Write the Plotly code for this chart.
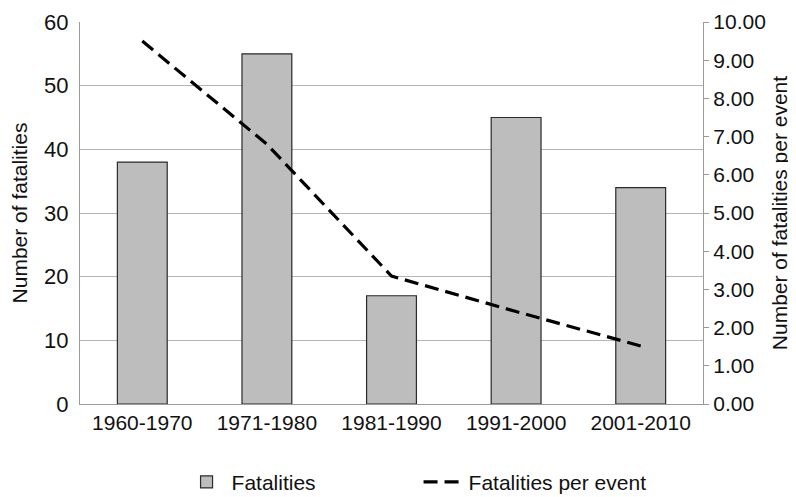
import plotly.graph_objects as go

categories = ["1960-1970", "1971-1980", "1981-1990", "1991-2000", "2001-2010"]
fatalities = [38, 55, 17, 45, 34]
fatalities_per_event = [9.5, 6.8, 3.35, 2.42, 1.52]

font_family = "Liberation Sans, Arial, sans-serif"

fig = go.Figure()
fig.add_trace(go.Bar(
    x=categories, y=fatalities, name="Fatalities",
    marker=dict(color="#BDBDBD", line=dict(color="#2a2a2a", width=1.2)),
))
fig.add_trace(go.Scatter(
    x=categories, y=fatalities_per_event, name="Fatalities per event",
    yaxis="y2", mode="lines",
    line=dict(color="black", width=3.2, dash="14px,7px"),
))

fig.update_layout(
    width=788, height=489,
    margin=dict(l=72, r=93, t=14, b=93, autoexpand=False),
    paper_bgcolor="white", plot_bgcolor="white",
    font=dict(family=font_family, size=21, color="#111111"),
    bargap=0.6,
    showlegend=True,
    legend=dict(
        orientation="h", x=0.163, xanchor="left", y=-0.205, yanchor="middle",
        font=dict(size=21), entrywidth=182, entrywidthmode="pixels",
        itemwidth=40, traceorder="normal",
    ),
    xaxis=dict(
        showline=True, linecolor="#9a9a9a", linewidth=1.2,
        ticks="", tickfont=dict(size=21), showgrid=False,
    ),
    yaxis=dict(
        range=[0, 60], dtick=10, showgrid=True, gridcolor="#b5b5b5", gridwidth=1.2,
        showline=True, linecolor="#9a9a9a", linewidth=1.2,
        ticks="", tickfont=dict(size=22), zeroline=False, ticklabelstandoff=6,
        title=dict(text="Number of fatalities", font=dict(size=21), standoff=10),
    ),
    yaxis2=dict(
        overlaying="y", side="right", range=[0, 10], dtick=1, tickformat=".2f",
        showgrid=False, zeroline=False,
        showline=True, linecolor="#9a9a9a", linewidth=1.2,
        ticks="outside", ticklen=5, tickcolor="#9a9a9a",
        tickfont=dict(size=21),
        title=dict(text="Number of fatalities per event", font=dict(size=21), standoff=7),
    ),
)

fig.write_html("out.html")
